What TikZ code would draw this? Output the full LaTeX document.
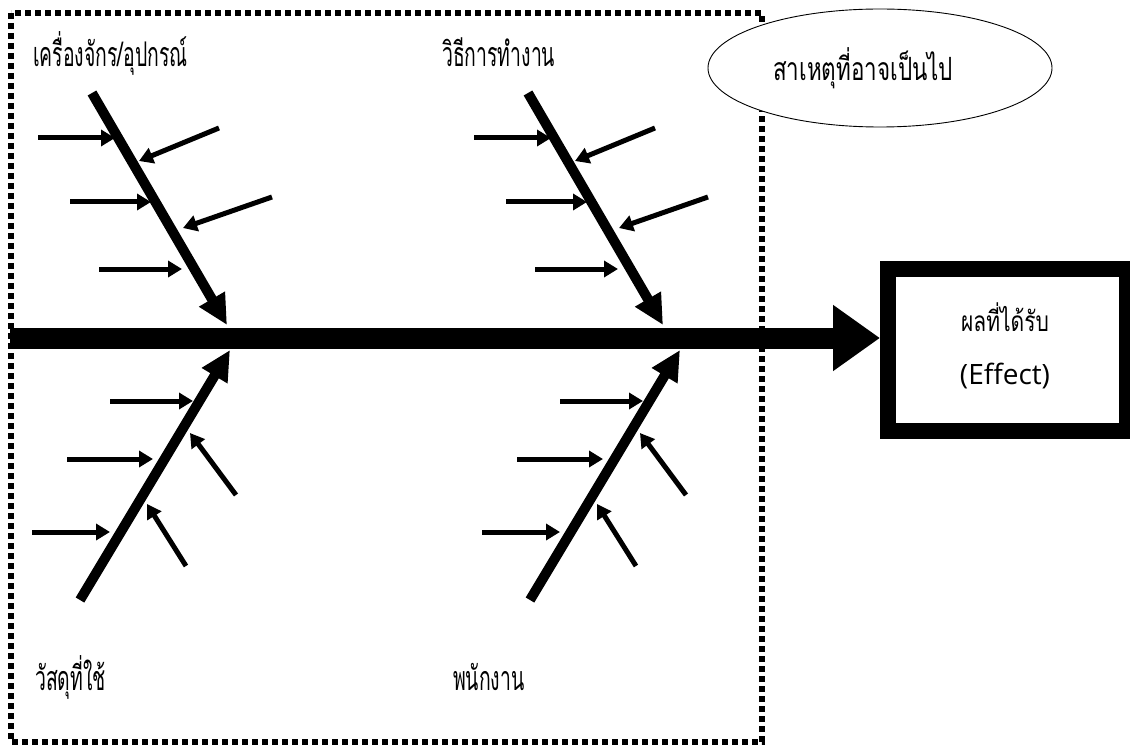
\documentclass[tikz,border=0pt]{standalone}
\usepackage{fontspec}
\usetikzlibrary{arrows.meta,shapes.geometric}
\newfontfamily\thaicat[Script=Thai,FakeStretch=0.57]{Loma}
\newfontfamily\thaisans[Script=Thai,FakeStretch=0.7]{Loma}
\newfontfamily\thaieff[Script=Thai,FakeStretch=0.75]{Loma}
\newfontfamily\latinsans{Open Sans}
\tikzset{
  bone/.style={line width=10pt, -{Triangle[length=30pt,width=28pt]}},
  rib/.style={line width=5pt, -{Triangle[length=14pt,width=16pt]}},
  spine/.style={line width=21pt, -{Triangle[length=47pt,width=63pt]}},
  catlabel/.style={font=\thaicat\fontsize{34}{36}\selectfont, anchor=base west, inner sep=0pt},
  frame/.style={line width=6pt, dash pattern=on 6pt off 4pt},
  upperfish/.pic={
    \coordinate (-s) at (92,93);   \coordinate (-t) at (227,325);
    \coordinate (-a1) at (38,138); \coordinate (-b1) at (115,138);
    \coordinate (-a2) at (70,202); \coordinate (-b2) at (151,202);
    \coordinate (-a3) at (99,269); \coordinate (-b3) at (182,269);
    \coordinate (-c1) at (219,128); \coordinate (-d1) at (139,161);
    \coordinate (-c2) at (272,197); \coordinate (-d2) at (183,228);
    \draw[bone] (-s) -- (-t);
    \foreach \i in {1,2,3} {\draw[rib] (-a\i) -- (-b\i);}
    \foreach \i in {1,2} {\draw[rib] (-c\i) -- (-d\i);}
  },
  lowerfish/.pic={
    \coordinate (-s) at (80,600);  \coordinate (-t) at (230,350);
    \coordinate (-a1) at (110,401); \coordinate (-b1) at (193,401);
    \coordinate (-a2) at (67,459);  \coordinate (-b2) at (153,459);
    \coordinate (-a3) at (32,532);  \coordinate (-b3) at (110,532);
    \coordinate (-c1) at (236,495); \coordinate (-d1) at (190,433);
    \coordinate (-c2) at (186,566); \coordinate (-d2) at (147,504);
    \draw[bone] (-s) -- (-t);
    \foreach \i in {1,2,3} {\draw[rib] (-a\i) -- (-b\i);}
    \foreach \i in {1,2} {\draw[rib] (-c\i) -- (-d\i);}
  }
}
\begin{document}
\begin{tikzpicture}[x=1pt,y=-1pt]
\useasboundingbox (0,0) rectangle (1130,746);
% dotted frame
\draw[frame] (11,13) rectangle (762,742);
% labels
\node[catlabel] (machine) at (33,67) {เครื่องจักร/อุปกรณ์};
\node[catlabel] (method) at (442,67) {วิธีการทำงาน};
\node[catlabel] (material) at (35,690) {วัสดุที่ใช้};
\node[catlabel] (staff) at (453,690) {พนักงาน};
% bones
\pic (ml) at (0,0) {upperfish};
\pic (mr) at (436,0) {upperfish};
\pic (ll) at (0,0) {lowerfish};
\pic (lr) at (450,0) {lowerfish};
% effect box
\node[draw, line width=16pt, minimum width=239pt, minimum height=162pt, inner sep=0pt] (effect) at (1007.5,350) {};
\node[font=\thaieff\fontsize{28}{30}\selectfont, inner sep=0pt] (effth) at (1005,317) {ผลที่ได้รับ};
\node[font=\latinsans\fontsize{28}{30}\selectfont, inner sep=0pt] (effen) at (1005,376) {(Effect)};
% spine
\coordinate (spinestart) at (10,338);
\draw[spine] (spinestart) -- (spinestart -| effect.west);
% cause ellipse
\node[ellipse, draw, fill=white, line width=0.9pt, minimum width=344pt, minimum height=118pt] (cause) at (880,68) {};
\node[font=\thaisans\fontsize{32}{34}\selectfont, anchor=base west, inner sep=0pt] (causetext) at (773,81) {สาเหตุที่อาจเป็นไป};
\end{tikzpicture}
\end{document}
